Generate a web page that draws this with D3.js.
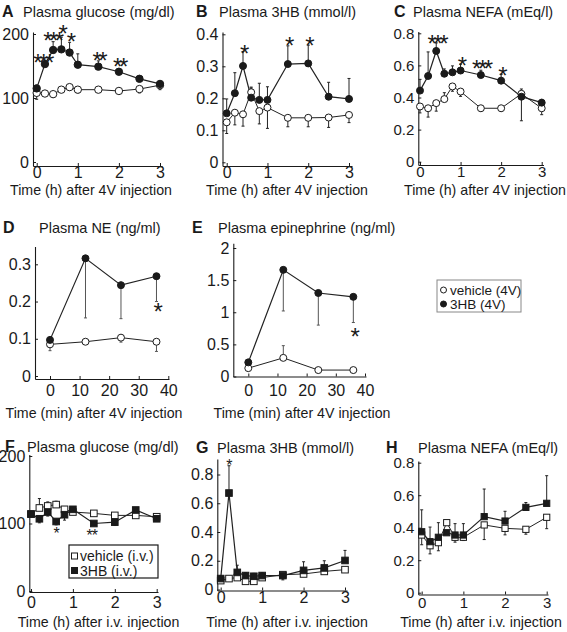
<!DOCTYPE html>
<html><head><meta charset="utf-8">
<script src="https://cdn.jsdelivr.net/npm/d3@7/dist/d3.min.js"></script>
<style>
body{margin:0;background:#fff}
text{font-family:"Liberation Sans",Arial,Helvetica,sans-serif;fill:#1a1a1a}
</style>
</head><body>
<svg id="chart" width="567" height="632"></svg>
<script>
// ---------------- DATA ----------------
const hours = [0, 0.2, 0.4, 0.6, 0.8, 1, 1.5, 2, 2.5, 3];
const minutes = [0, 12, 24, 36];
const hourTicks = [0, 1, 2, 3];
const minuteTicks = [0, 10, 20, 30, 40];

// A: plasma glucose (mg/dl), 4V injection
const glucoseVeh4V = [108, 107, 106, 113, 117, 113, 113, 111, 114, 120];
const glucoseVeh4VErr = [-10, -4, -5, -4, -5, -5, -2, -4, -6, -7];
const glucose3HB4V = [115, 153, 175, 176, 171, 152, 149, 141, 130, 122];
const glucose3HB4VErr = [5, 6, 13, 19, 16, 17, 9, 5, 3, 4];
const glucoseTicks4V = [0, 100, 200];
const glucoseStars4V = [
  {t: 0.13, v: 164, s: "***"}, {t: 0.37, v: 198, s: "***"}, {t: 0.6, v: 209, s: "*"},
  {t: 0.8, v: 197, s: "*"}, {t: 1.5, v: 167, s: "**"}, {t: 2, v: 157, s: "**"}];

// B: plasma 3HB (mmol/l), 4V injection
const hbVeh4V = [0.125, 0.155, 0.150, 0.219, 0.160, 0.171, 0.139, 0.139, 0.140, 0.148];
const hbVeh4VErr = [-0.035, -0.038, -0.037, 0.016, -0.040, -0.065, -0.028, -0.028, -0.031, -0.024];
const hb3HB4V = [0.153, 0.216, 0.301, 0.202, 0.195, 0.195, 0.307, 0.309, 0.205, 0.198];
const hb3HB4VErr = [0.045, 0.064, 0.045, 0.03, 0.052, 0.041, 0.057, 0.057, 0.045, 0.064];
const hbTicks4V = [0, 0.1, 0.2, 0.3, 0.4];
const hbStars4V = [{t: 0.4, v: 0.356, s: "*"}, {t: 1.5, v: 0.382, s: "*"}, {t: 2, v: 0.382, s: "*"}];

// C: plasma NEFA (mEq/l), 4V injection
const nefaVeh4V = [0.344, 0.333, 0.365, 0.39, 0.469, 0.437, 0.333, 0.333, 0.423, 0.333];
const nefaVeh4VErr = [-0.04, -0.055, -0.05, 0.04, -0.03, -0.03, -0.02, -0.02, 0.03, -0.04];
const nefa3HB4V = [0.443, 0.534, 0.690, 0.548, 0.557, 0.568, 0.540, 0.505, 0.405, 0.368];
const nefa3HB4VErr = [0.07, 0.15, 0.05, 0.03, 0.04, 0.04, 0.03, 0.04, -0.15, 0.02];
const nefaTicks = [0, 0.2, 0.4, 0.6, 0.8];
const nefaStars4V = [{t: 0.4, v: 0.77, s: "***"}, {t: 1, v: 0.634, s: "*"}, {t: 1.5, v: 0.613, s: "***"}, {t: 2, v: 0.571, s: "*"}];

// D: plasma NE (ng/ml)
const neVeh = [0.085, 0.092, 0.103, 0.092];
const neVehErr = [-0.017, 0, -0.012, -0.026];
const ne3HB = [0.097, 0.316, 0.244, 0.268];
const ne3HBErr = [0, -0.16, -0.09, -0.068];
const neTicks = [0, 0.1, 0.2, 0.3];
const neStars = [{t: 36, v: 0.188, s: "*"}];

// E: plasma epinephrine (ng/ml)
const epiVeh = [0.13, 0.29, 0.10, 0.10];
const epiVehErr = [0, 0.19, 0, 0];
const epi3HB = [0.22, 1.66, 1.30, 1.24];
const epi3HBErr = [0, -0.64, -0.5, -0.4];
const epiTicks = [0, 0.5, 1, 1.5, 2];
const epiStars = [{t: 36, v: 0.70, s: "*"}];

// F: plasma glucose (mg/dl), i.v. injection
const glucoseVehIV = [114, 123, 126, 128, 121, 117, 115, 112, 112, 110];
const glucoseVehIVErr = [0, 14, 6, 5, 4, 0, 0, 0, 0, 0];
const glucose3HBIV = [114, 107, 117, 103, 113, 121, 100, 102, 120, 107];
const glucose3HBIVErr = [-4, -6, -6, -5, -8, 0, -3, -5, 0, -4];
const glucoseTicksIV = [0, 100, 200];
const glucoseStarsIV = [{t: 0.6, v: 91, s: "*"}, {t: 1.45, v: 87, s: "**"}];

// G: plasma 3HB (mmol/l), i.v. injection
const hbVehIV = [0.062, 0.076, 0.083, 0.057, 0.057, 0.083, 0.103, 0.108, 0.126, 0.138];
const hbVehIVErr = [0, 0, 0, 0, 0, 0, 0, 0, 0, 0];
const hb3HBIV = [0.076, 0.671, 0.119, 0.097, 0.092, 0.097, 0.097, 0.133, 0.15, 0.202];
const hb3HBIVErr = [0.02, 0.19, 0.05, 0.02, 0.02, 0.02, -0.03, 0.06, 0.05, 0.07];
const hbTicksIV = [0, 0.2, 0.4, 0.6, 0.8];
const hbStarsIV = [{t: 0.2, v: 0.89, s: "*"}];

// H: plasma NEFA (mEq/l), i.v. injection
const nefaVehIV = [0.355, 0.289, 0.308, 0.431, 0.341, 0.341, 0.417, 0.396, 0.390, 0.464];
const nefaVehIVErr = [-0.06, -0.05, -0.05, 0, -0.03, -0.02, -0.09, -0.04, -0.03, -0.07];
const nefa3HBIV = [0.375, 0.314, 0.341, 0.369, 0.355, 0.355, 0.468, 0.441, 0.525, 0.550];
const nefa3HBIVErr = [0.135, 0.09, 0.09, 0, 0.07, 0.07, 0.17, 0.06, 0.03, 0.17];

const legend4V = ["vehicle (4V)", "3HB (4V)"];
const legendIV = ["vehicle (i.v.)", "3HB (i.v.)"];

// ---------------- LAYOUT ----------------
const svg = d3.select("#chart");
const INK = "#1a1a1a";

function txt(g, x, y, str, size, anchor, weight) {
  return g.append("text").attr("x", x).attr("y", y).attr("font-size", size)
    .attr("text-anchor", anchor || "start").attr("font-weight", weight || "normal").text(str);
}

// calibrated scale: value a -> pixel pa, value b -> pixel pb, axis spans pixel [s0, s1]
function calScale(a, pa, b, pb, s0, s1) {
  const tmp = d3.scaleLinear().domain([a, b]).range([pa, pb]);
  return d3.scaleLinear().domain([tmp.invert(s0), tmp.invert(s1)]).range([s0, s1]);
}

const panels = [
  {letter: "A", lx: 2, tx: 23, ty: 17, title: "Plasma glucose (mg/dl)",
   xc: [0, 36.7, 3, 160, 33, 162], yc: [0, 162, 200, 34, 166, 32],
   xt: hourTicks, yt: glucoseTicks4V, yfmt: d => d, fs: 16, xpad: 1,
   xlabel: "Time (h) after 4V injection", xlx: 91, xly: 195,
   t: hours, veh: glucoseVeh4V, vehE: glucoseVeh4VErr, trt: glucose3HB4V, trtE: glucose3HB4VErr,
   stars: glucoseStars4V, starFs: 24, shape: "circle", r: 3.7},
  {letter: "B", lx: 196, tx: 219, ty: 17, title: "Plasma 3HB (mmol/l)",
   xc: [0, 226.7, 3, 349, 222.5, 352], yc: [0, 162.3, 0.4, 34.3, 166, 32],
   xt: hourTicks, yt: hbTicks4V, yfmt: d => d === 0 ? "0" : d3.format(".1f")(d), fs: 16, xpad: 1,
   xlabel: "Time (h) after 4V injection", xlx: 287, xly: 195,
   t: hours, veh: hbVeh4V, vehE: hbVeh4VErr, trt: hb3HB4V, trtE: hb3HB4VErr,
   stars: hbStars4V, starFs: 24, shape: "circle", r: 3.5},
  {letter: "C", lx: 394, tx: 413, ty: 17, title: "Plasma NEFA (mEq/l)",
   xc: [0, 420, 3, 541.7, 418.3, 543.5], yc: [0, 161.7, 0.8, 33.3, 165, 31.5],
   xt: hourTicks, yt: nefaTicks, yfmt: d => d === 0 ? "0" : d3.format(".1f")(d), fs: 15, xpad: 1.5,
   xlabel: "Time (h) after 4V injection", xlx: 485, xly: 195,
   t: hours, veh: nefaVeh4V, vehE: nefaVeh4VErr, trt: nefa3HB4V, trtE: nefa3HB4VErr,
   stars: nefaStars4V, starFs: 24, shape: "circle", r: 3.5},
  {letter: "D", lx: 3, tx: 39, ty: 233, title: "Plasma NE (ng/ml)",
   xc: [0, 50, 40, 168.3, 35, 169], yc: [0, 376, 0.3, 264.3, 379, 246.5],
   xt: minuteTicks, yt: neTicks, yfmt: d => d === 0 ? "0" : d3.format(".1f")(d), fs: 16, xpad: 6,
   xlabel: "Time (min) after 4V injection", xlx: 94, xly: 418,
   t: minutes, veh: neVeh, vehE: neVehErr, trt: ne3HB, trtE: ne3HBErr,
   stars: neStars, starFs: 24, shape: "circle", r: 3.5, errColor: "#555"},
  {letter: "E", lx: 192, tx: 218, ty: 233, title: "Plasma  epinephrine (ng/ml)",
   xc: [0, 248.3, 40, 365, 233.3, 366], yc: [0, 376.5, 2, 248, 376.5, 243.3],
   xt: minuteTicks, yt: epiTicks, yfmt: d => d, fs: 16, xpad: 8.5,
   xlabel: "Time (min) after 4V injection", xlx: 302, xly: 418,
   t: minutes, veh: epiVeh, vehE: epiVehErr, trt: epi3HB, trtE: epi3HBErr,
   stars: epiStars, starFs: 24, shape: "circle", r: 3.5, errColor: "#555"},
  {letter: "F", lx: 5, tx: 27, ty: 451.5, title: "Plasma glucose (mg/dl)",
   xc: [0, 31, 3, 156.7, 29.3, 158], yc: [0, 591, 200, 456, 592, 454.5],
   xt: hourTicks, yt: glucoseTicksIV, yfmt: d => d, fs: 16, xpad: 4.5,
   xlabel: "Time (h) after i.v. injection", xlx: 98.5, xly: 627,
   t: hours, veh: glucoseVehIV, vehE: glucoseVehIVErr, trt: glucose3HBIV, trtE: glucose3HBIVErr,
   stars: glucoseStarsIV, starFs: 16, shape: "square", r: 3.3},
  {letter: "G", lx: 196, tx: 217, ty: 453, title: "Plasma 3HB (mmol/l)",
   xc: [0, 220.7, 3, 345, 217.3, 347], yc: [0, 589.5, 0.8, 474.5, 590.5, 459],
   xt: hourTicks, yt: hbTicksIV, yfmt: d => d === 0 ? "0" : d3.format(".1f")(d), fs: 16, xpad: 1,
   xlabel: "Time (h) after i.v. injection", xlx: 287, xly: 627,
   t: hours, veh: hbVehIV, vehE: hbVehIVErr, trt: hb3HBIV, trtE: hb3HBIVErr,
   stars: hbStarsIV, starFs: 16, shape: "square", r: 3.3},
  {letter: "H", lx: 386, tx: 418, ty: 453, title: "Plasma NEFA (mEq/l)",
   xc: [0, 421.7, 3, 546.7, 418.3, 548], yc: [0, 592.7, 0.8, 462.7, 594.5, 461],
   xt: hourTicks, yt: nefaTicks, yfmt: d => d === 0 ? "0" : d3.format(".1f")(d), fs: 15, xpad: 3,
   xlabel: "Time (h) after i.v. injection", xlx: 481, xly: 627,
   t: hours, veh: nefaVehIV, vehE: nefaVehIVErr, trt: nefa3HBIV, trtE: nefa3HBIVErr,
   stars: [], starFs: 16, shape: "square", r: 3.1}
];

function drawMarker(g, shape, cx, cy, r, filled) {
  if (shape === "circle") {
    g.append("circle").attr("cx", cx).attr("cy", cy).attr("r", r)
      .attr("fill", filled ? INK : "#fff").attr("stroke", INK).attr("stroke-width", 1);
  } else {
    g.append("rect").attr("x", cx - r).attr("y", cy - r).attr("width", 2 * r).attr("height", 2 * r)
      .attr("fill", filled ? INK : "#fff").attr("stroke", INK).attr("stroke-width", 1);
  }
}

panels.forEach(p => {
  const g = svg.append("g");
  const x = calScale(...p.xc);
  const y = calScale(...p.yc);
  const xAxisY = p.yc[4], yAxisX = p.xc[4];

  // title
  txt(g, p.lx, p.ty, p.letter, 16, "start", "bold");
  txt(g, p.tx, p.ty, p.title, 14.5);

  // axes
  const ya = g.append("g").attr("transform", `translate(${yAxisX},0)`)
    .call(d3.axisLeft(y).tickValues(p.yt).tickFormat(p.yfmt).tickSizeInner(-3).tickSizeOuter(0).tickPadding(4));
  const xa = g.append("g").attr("transform", `translate(0,${xAxisY})`)
    .call(d3.axisBottom(x).tickValues(p.xt).tickFormat(d => d).tickSizeInner(-3).tickSizeOuter(0).tickPadding(p.xpad));
  [ya, xa].forEach(a => {
    a.selectAll("path.domain").attr("stroke", INK).attr("stroke-width", 1.1);
    a.selectAll(".tick line").attr("stroke", INK);
    a.selectAll(".tick text").attr("font-size", p.fs).attr("fill", INK)
      .attr("font-family", '"Liberation Sans",Arial,sans-serif');
  });

  // x label
  txt(g, p.xlx, p.xly, p.xlabel, 14.2, "middle");

  const ec = p.errColor || "#222";
  // error bars
  function errBars(vals, errs) {
    vals.forEach((v, i) => {
      const e = errs[i];
      if (!e) return;
      const xi = x(p.t[i]);
      g.append("line").attr("x1", xi).attr("x2", xi).attr("y1", y(v)).attr("y2", y(v + e))
        .attr("stroke", ec).attr("stroke-width", 1);
      g.append("line").attr("x1", xi - 1.5).attr("x2", xi + 1.5).attr("y1", y(v + e)).attr("y2", y(v + e))
        .attr("stroke", ec).attr("stroke-width", 1);
    });
  }
  errBars(p.veh, p.vehE);
  errBars(p.trt, p.trtE);

  const line = d3.line().x((d, i) => x(p.t[i])).y(d => y(d));
  g.append("path").attr("d", line(p.veh)).attr("fill", "none").attr("stroke", "#222").attr("stroke-width", 1);
  g.append("path").attr("d", line(p.trt)).attr("fill", "none").attr("stroke", "#222").attr("stroke-width", 1.2);

  p.veh.forEach((v, i) => drawMarker(g, p.shape, x(p.t[i]), y(v), p.r, false));
  p.trt.forEach((v, i) => drawMarker(g, p.shape, x(p.t[i]), y(v), p.r, true));

  // significance stars
  p.stars.forEach(s => {
    g.append("text").attr("x", x(s.t)).attr("y", y(s.v) + 0.57 * p.starFs)
      .attr("font-size", p.starFs).attr("text-anchor", "middle")
      .attr("letter-spacing", p.starFs > 20 ? "-3.5px" : "-1px").text(s.s);
  });
});

// legend for 4V panels
{
  const g = svg.append("g");
  g.append("rect").attr("x", 437).attr("y", 280).attr("width", 84).attr("height", 32)
    .attr("fill", "#fff").attr("stroke", "#888").attr("stroke-width", 1);
  drawMarker(g, "circle", 443.5, 290, 3, false);
  drawMarker(g, "circle", 443.5, 304, 3, true);
  txt(g, 450, 295, legend4V[0], 13.5);
  txt(g, 450, 309, legend4V[1], 13.5);
}
// legend for i.v. panels
{
  const g = svg.append("g");
  g.append("rect").attr("x", 69).attr("y", 545).attr("width", 89).attr("height", 33)
    .attr("fill", "#fff").attr("stroke", INK).attr("stroke-width", 1.2);
  drawMarker(g, "square", 74.5, 556, 3, false);
  drawMarker(g, "square", 74.5, 570.5, 3, true);
  txt(g, 80, 561, legendIV[0], 14);
  txt(g, 80, 575.5, legendIV[1], 14);
}
</script>
</body></html>
